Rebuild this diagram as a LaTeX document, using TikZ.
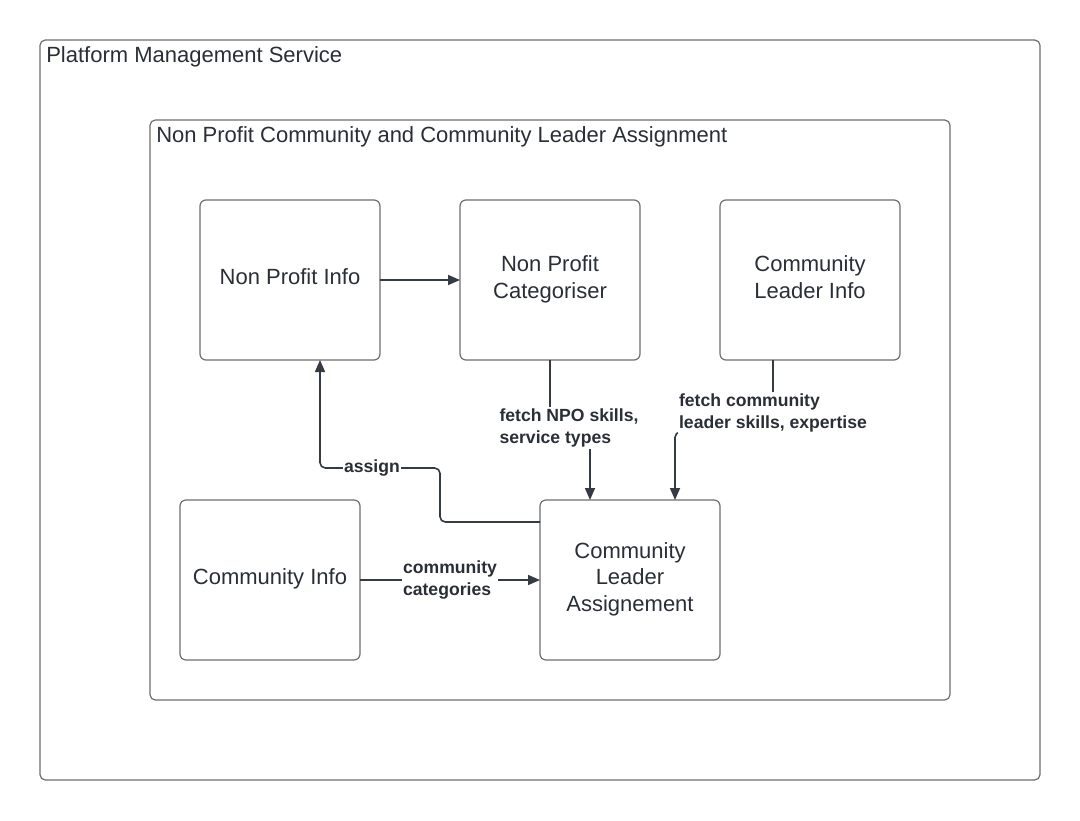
\documentclass[tikz,border=0pt]{standalone}
\usepackage{fontspec}
\setmainfont{Liberation Sans}
\usetikzlibrary{arrows.meta,calc}
\definecolor{frame}{HTML}{6E6E6E}
\definecolor{conn}{HTML}{353B45}
\definecolor{txt}{HTML}{2A2F37}
\newcommand{\upfix}{\\[-15.5pt]\mbox{}}
\tikzset{
  frm/.style={draw=frame, line width=0.9pt, rounded corners=4pt, inner sep=0pt, outer sep=0pt},
  boxnode/.style={draw=frame, line width=0.9pt, rounded corners=4.5pt, minimum width=135pt, minimum height=120pt,
    inner sep=2pt, outer sep=0pt, align=center, text=txt, font=\fontsize{16.5}{20}\selectfont},
  title/.style={anchor=west, inner sep=0pt, text=txt, font=\fontsize{16.5}{20}\selectfont},
  cline/.style={draw=conn, line width=1.2pt, rounded corners=4pt},
  carrow/.style={cline, -{Triangle[length=9pt,width=7.5pt]}},
  lbl/.style={fill=white, inner sep=1pt, align=left, text=txt, font=\bfseries\fontsize{13.2}{16.5}\selectfont}
}
\begin{document}
\begin{tikzpicture}[x=0.75pt,y=-0.75pt]
\useasboundingbox[fill=white] (0,0) rectangle (1080,820);
% frames
\node[frm, minimum width=750pt, minimum height=555pt] (outer) at (540,410) {};
\node[title] (outert) at (46,57) {Platform Management Service};
\node[frm, minimum width=600pt, minimum height=435pt] (inner) at (550,410) {};
\node[title] (innert) at (156,137) {Non Profit Community and Community Leader Assignment};
% boxes
\node[boxnode] (npi) at (290,280) {Non Profit Info\upfix};
\node[boxnode] (npc) at (550,280) {Non Profit\\Categoriser\upfix};
\node[boxnode] (cli) at (810,280) {Community\\Leader Info\upfix};
\node[boxnode] (ci) at (270,580) {Community Info\upfix};
\node[boxnode] (cla) at (630,580) {Community\\Leader\\Assignement\upfix};
% connectors
\draw[carrow] (npi.east) -- (npc.west);
\draw[carrow] (npc.south) -- (550,432) -| ($(cla.north)+(-40,0)$);
\node[lbl] (l1) at (569,428) {fetch NPO skills,\\service types};
\draw[carrow] ($(cli.south)+(-37,0)$) -- (773,432) -| ($(cla.north)+(45,0)$);
\node[lbl] (l2) at (773,413) {fetch community\\leader skills, expertise};
\draw[carrow] ($(cla.north west)+(0,22)$) -| (440,468) -| ($(npi.south)+(30,0)$);
\node[lbl] (l3) at (372,468) {assign};
\draw[carrow] (ci.east) -- (cla.west);
\node[lbl] (l4) at (450,579.5) {community\\categories};
\end{tikzpicture}
\end{document}
